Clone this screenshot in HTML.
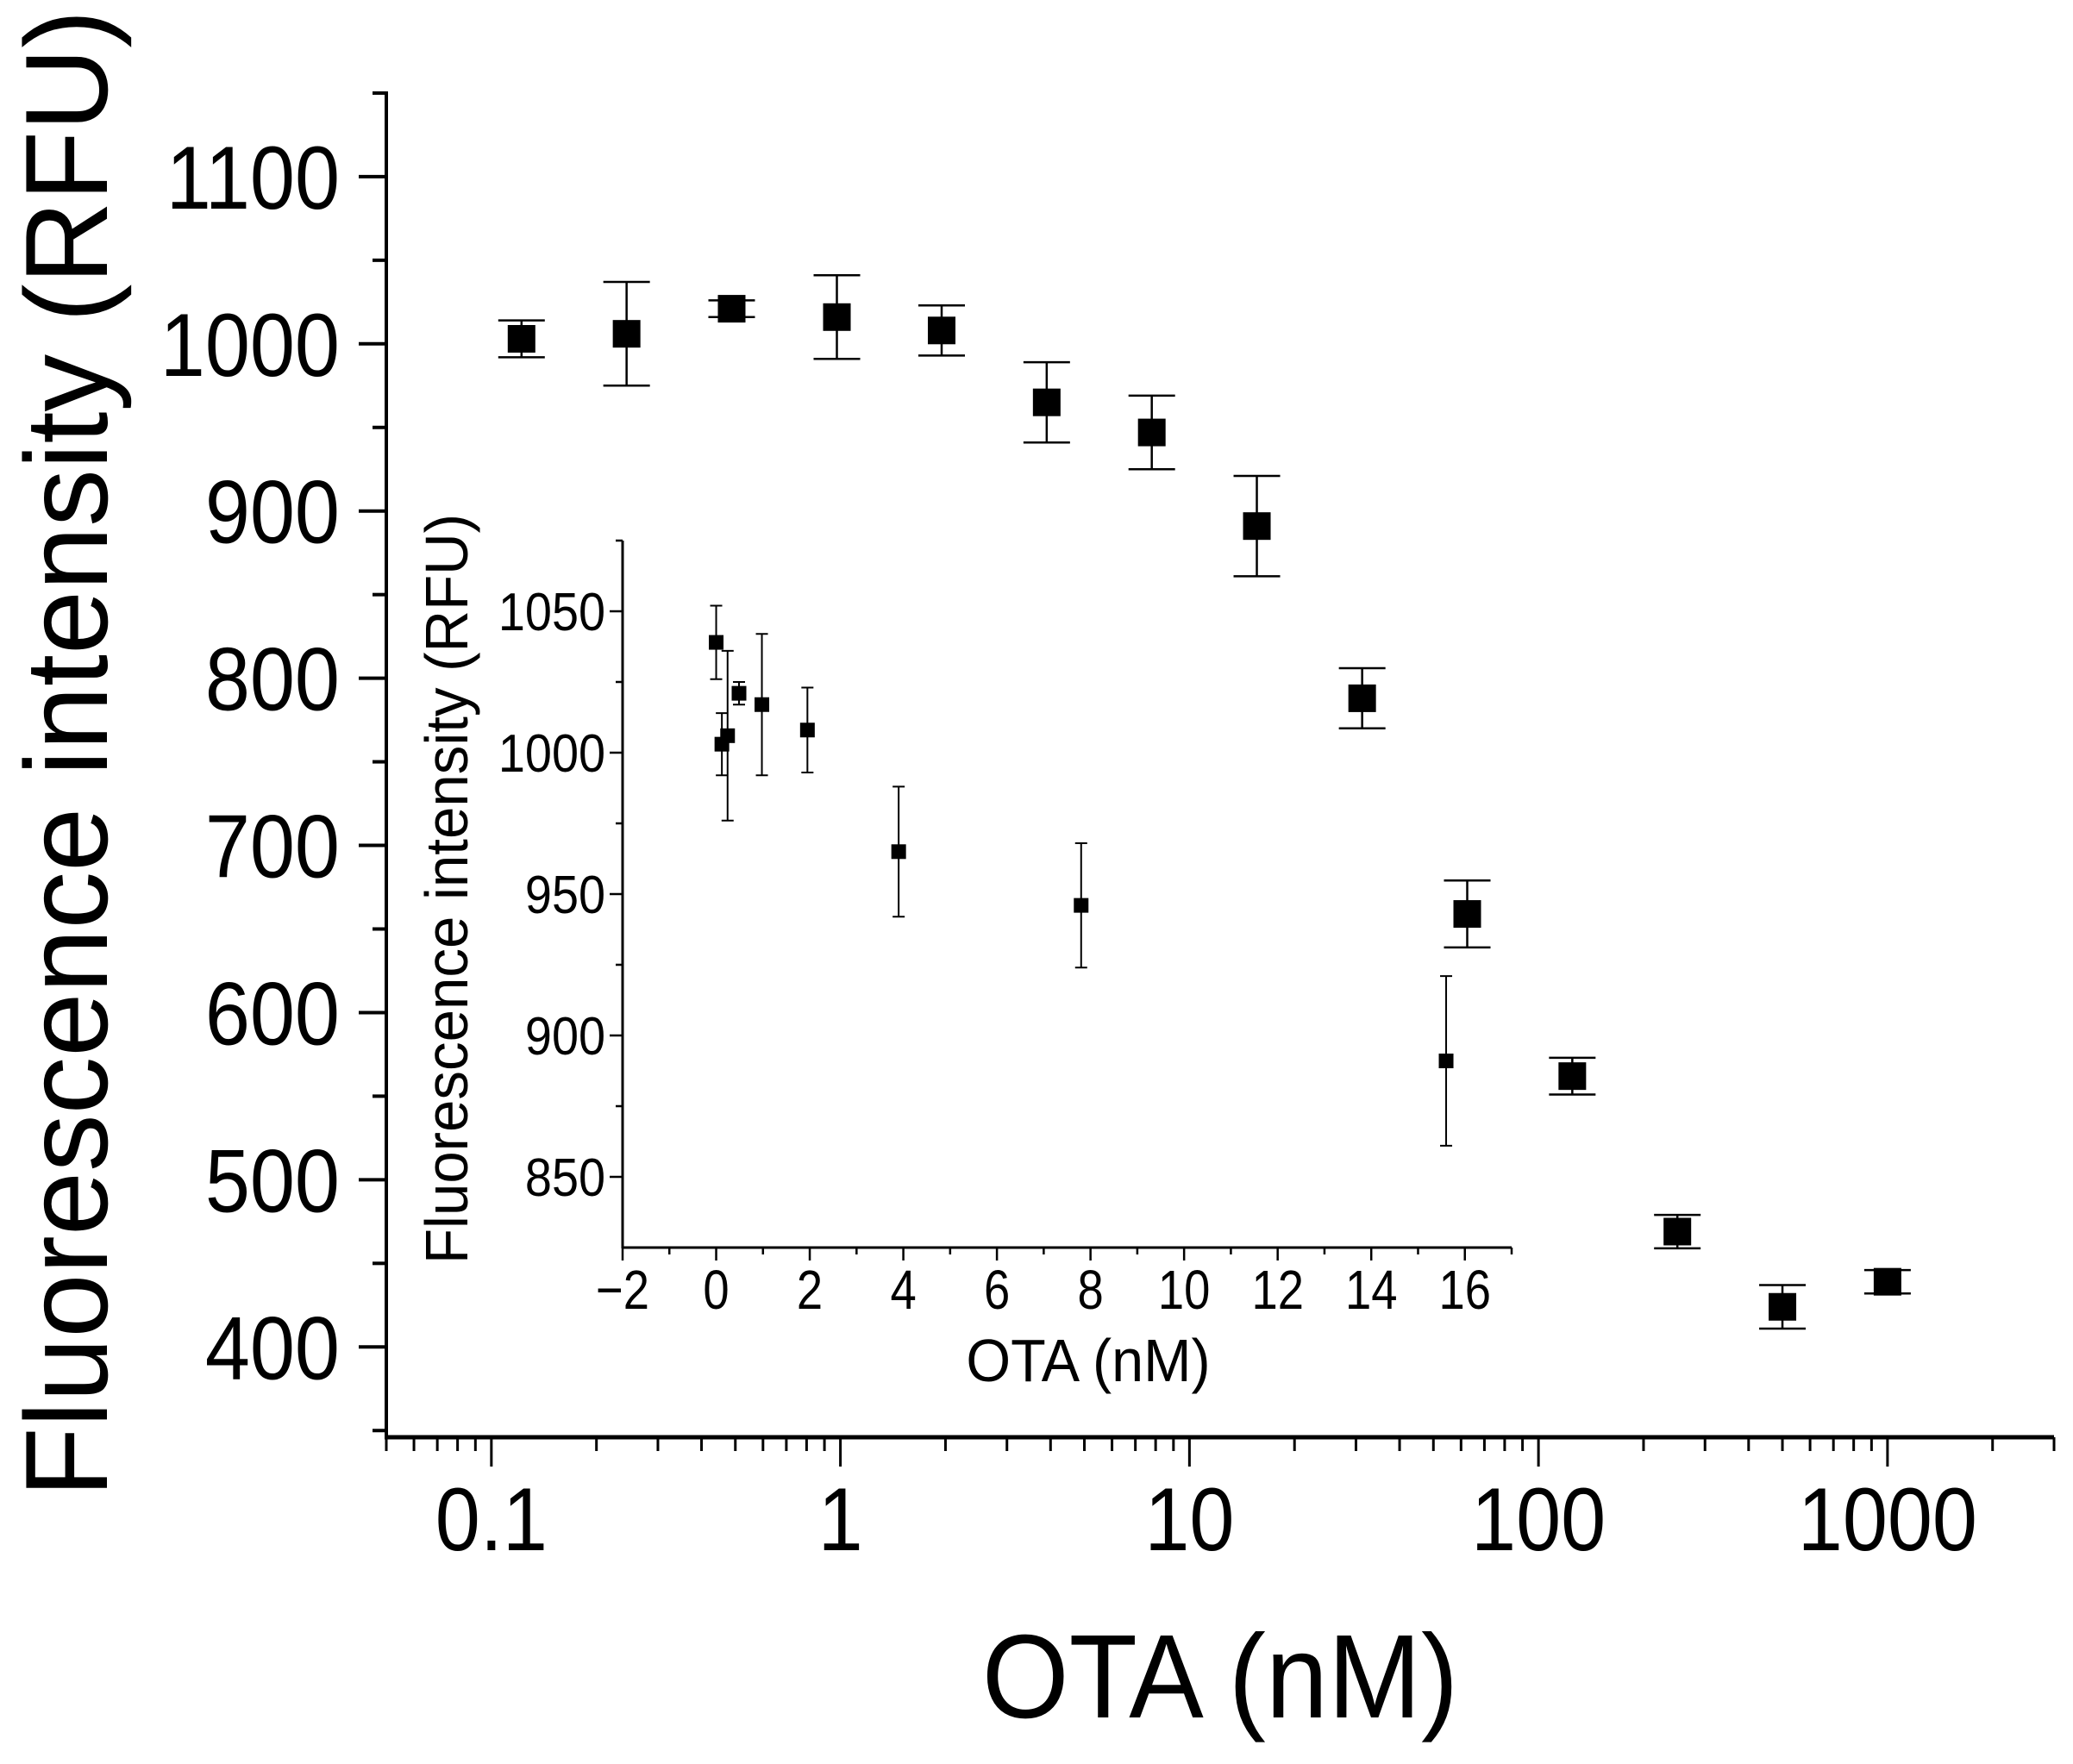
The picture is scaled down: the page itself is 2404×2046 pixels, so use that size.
<!DOCTYPE html>
<html><head><meta charset="utf-8"><style>
html,body{margin:0;padding:0;background:#fff;}
svg{display:block;font-family:"Liberation Sans",Arial,sans-serif;}
</style></head><body>
<svg id="chart" width="2404" height="2046" viewBox="0 0 2404 2046" xmlns="http://www.w3.org/2000/svg">
<g id="main"></g>
<g id="inset"></g>
</svg>
<script>
// Main chart data
const mainX = [0.122, 0.244, 0.488, 0.977, 1.95, 3.9, 7.8, 15.6, 31.25, 62.5, 125, 250, 500, 1000];
const mainY = [1003, 1006, 1021, 1016, 1008, 965, 947, 891, 788, 659, 562, 469, 424, 439];
const mainErr = [11, 31, 5, 25, 15, 24, 22, 30, 18, 20, 11, 10, 13, 7];
const mainXTicks = [0.1, 1, 10, 100, 1000];
const mainXTickLabels = ["0.1", "1", "10", "100", "1000"];
const mainYTicks = [400, 500, 600, 700, 800, 900, 1000, 1100];
// Inset data
const insetX = [0, 0.122, 0.244, 0.488, 0.977, 1.95, 3.9, 7.8, 15.6];
const insetY = [1039, 1003, 1006, 1021, 1017, 1008, 965, 946, 891];
const insetErr = [13, 11, 30, 4, 25, 15, 23, 22, 30];
const insetXTicks = [-2, 0, 2, 4, 6, 8, 10, 12, 14, 16];
const insetXTickLabels = ["\u22122", "0", "2", "4", "6", "8", "10", "12", "14", "16"];
const insetYTicks = [850, 900, 950, 1000, 1050];

const NS = "http://www.w3.org/2000/svg";
function mk(parent, tag, attrs, text) {
  const e = document.createElementNS(NS, tag);
  for (const k in attrs) e.setAttribute(k, attrs[k]);
  if (text !== undefined) e.textContent = text;
  parent.appendChild(e);
  return e;
}
// text with narrower/taller glyph aspect (sx horizontal squeeze)
function txt(parent, x, y, size, anchor, str, sx, rot) {
  const t = rot ? `translate(${x} ${y}) rotate(-90) scale(${sx} 1)` : `translate(${x} ${y}) scale(${sx} 1)`;
  return mk(parent, "text", {x: 0, y: 0, "font-size": size, "text-anchor": anchor, transform: t}, str);
}

// Main axes
const M = {l: 448, r: 2382, t: 106, b: 1667, xmin: Math.log10(0.05), xmax: Math.log10(3000), ymin: 346, ymax: 1151};
const mx = v => M.l + (Math.log10(v) - M.xmin) / (M.xmax - M.xmin) * (M.r - M.l);
const my = v => M.b - (v - M.ymin) / (M.ymax - M.ymin) * (M.b - M.t);
const g = document.getElementById("main");

let e;
e = mk(g, "line", {x1: M.l, y1: M.t, x2: M.l, y2: M.b + 2, stroke: "#000", "stroke-width": 4});


e = mk(g, "line", {x1: M.l - 2, y1: M.b, x2: M.r, y2: M.b, stroke: "#000", "stroke-width": 5});



for (let v = 350; v <= 1150; v += 50) {
  const major = v % 100 === 0;
  e = mk(g, "line", {x1: M.l - (major ? 32 : 16), y1: my(v), x2: M.l, y2: my(v), stroke: "#000", "stroke-width": 4});
  
  
}
mainYTicks.forEach(v => {
  e = txt(g, 394, my(v) + 37, 104, "end", String(v), 0.9, false);
  
  
});
for (let d = -2; d <= 3; d++) {
  for (let k = 1; k <= 9; k++) {
    const v = k * Math.pow(10, d);
    if (v < 0.05 || v > 3000) continue;
    const major = k === 1;
    e = mk(g, "line", {x1: mx(v), y1: M.b, x2: mx(v), y2: M.b + (major ? 34 : 16), stroke: "#000", "stroke-width": 3});
    
    
  }
}
e = mk(g, "line", {x1: M.r, y1: M.b, x2: M.r, y2: M.b + 16, stroke: "#000", "stroke-width": 3});


mainXTicks.forEach((v, i) => {
  e = txt(g, mx(v), 1798, 104, "middle", mainXTickLabels[i], 0.9, false);
  
  
});
e = txt(g, 1415, 1992, 138, "middle", "OTA (nM)", 0.94, false);


e = txt(g, 124, 874, 136, "middle", "Fluorescence intensity (RFU)", 0.98, true);



mainX.forEach((xv, i) => {
  const cx = mx(xv), cy = my(mainY[i]);
  const y1 = my(mainY[i] + mainErr[i]), y2 = my(mainY[i] - mainErr[i]);
  e = mk(g, "path", {d: `M${cx},${y1}V${y2}M${cx-27},${y1}H${cx+27}M${cx-27},${y2}H${cx+27}`, stroke: "#000", "stroke-width": 2.5, fill: "none"});
  
  
  e = mk(g, "rect", {x: cx - 16, y: cy - 16, width: 32, height: 32, fill: "#000"});
  
  
});

// Inset
const I = {l: 722, r: 1753, t: 627, b: 1447, xmin: -2, xmax: 17, ymin: 825, ymax: 1075};
const ix = v => I.l + (v - I.xmin) / (I.xmax - I.xmin) * (I.r - I.l);
const iy = v => I.b - (v - I.ymin) / (I.ymax - I.ymin) * (I.b - I.t);
const h = document.getElementById("inset");
e = mk(h, "line", {x1: I.l, y1: I.t, x2: I.l, y2: I.b + 1, stroke: "#000", "stroke-width": 3});


e = mk(h, "line", {x1: I.l - 1, y1: I.b, x2: I.r, y2: I.b, stroke: "#000", "stroke-width": 3});


for (let v = 850; v <= 1075; v += 25) {
  const major = v % 50 === 0;
  e = mk(h, "line", {x1: I.l - (major ? 15 : 8), y1: iy(v), x2: I.l, y2: iy(v), stroke: "#000", "stroke-width": 2.5});
  
  
}
insetYTicks.forEach(v => {
  e = txt(h, 702, iy(v) + 22, 62, "end", String(v), 0.9, false);
  
  
});
for (let v = -2; v <= 17; v += 1) {
  const major = v % 2 === 0;
  e = mk(h, "line", {x1: ix(v), y1: I.b, x2: ix(v), y2: I.b + (major ? 15 : 8), stroke: "#000", "stroke-width": 2.5});
  
  
}
insetXTicks.forEach((v, i) => {
  e = txt(h, ix(v), 1518, 64, "middle", insetXTickLabels[i], 0.85, false);
  
  
});
e = txt(h, 1262, 1602, 70, "middle", "OTA (nM)", 0.95, false);


e = txt(h, 542, 1031, 70, "middle", "Fluorescence intensity (RFU)", 0.96, true);


insetX.forEach((xv, i) => {
  const cx = ix(xv), cy = iy(insetY[i]);
  const y1 = iy(insetY[i] + insetErr[i]), y2 = iy(insetY[i] - insetErr[i]);
  e = mk(h, "path", {d: `M${cx},${y1}V${y2}M${cx-7},${y1}H${cx+7}M${cx-7},${y2}H${cx+7}`, stroke: "#000", "stroke-width": 2, fill: "none"});
  
  
  e = mk(h, "rect", {x: cx - 8.5, y: cy - 8.5, width: 17, height: 17, fill: "#000"});
  
  
});
</script>
</body></html>
